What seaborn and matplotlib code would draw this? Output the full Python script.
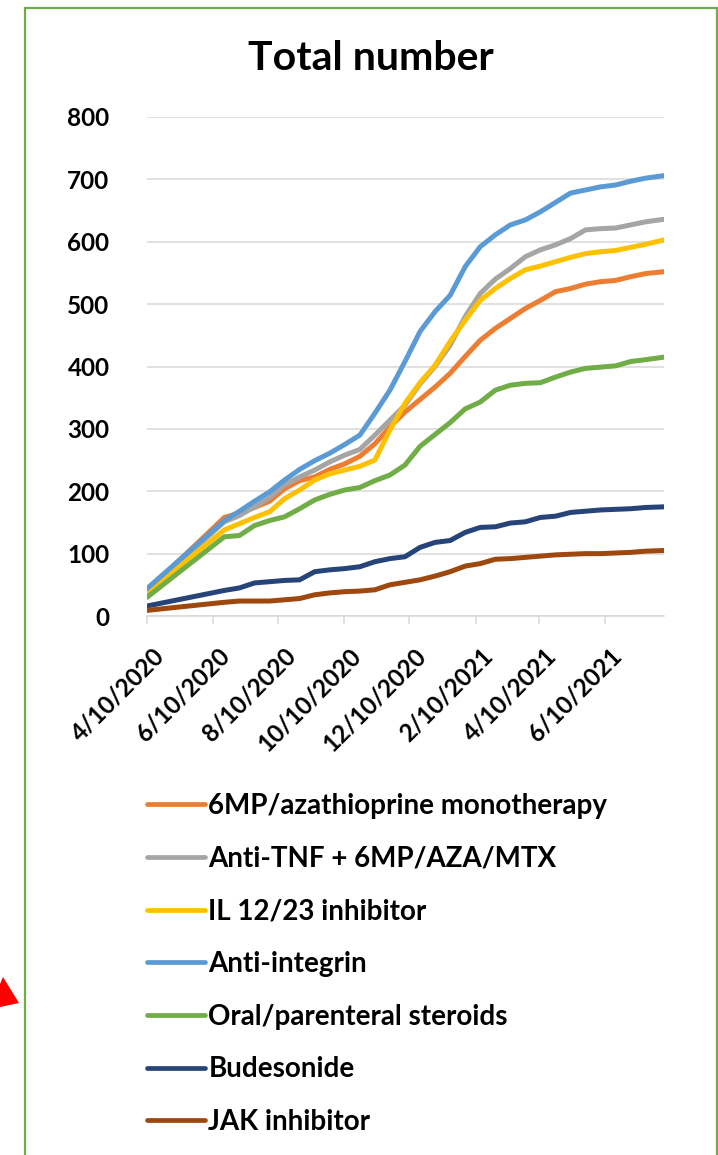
import pandas as pd
import matplotlib
matplotlib.use("Agg")
import matplotlib.pyplot as plt
import matplotlib.dates as mdates
import matplotlib.transforms as mtransforms
from matplotlib.patches import Rectangle, Polygon
import seaborn as sns

# sample dates (first point, then roughly every two weeks)
dates = ["2020-04-10", "2020-06-21", "2020-07-05", "2020-07-19", "2020-08-02", "2020-08-16",
         "2020-08-30", "2020-09-13", "2020-09-27", "2020-10-11", "2020-10-25", "2020-11-08",
         "2020-11-22", "2020-12-06", "2020-12-20", "2021-01-03", "2021-01-17", "2021-01-31",
         "2021-02-14", "2021-02-28", "2021-03-14", "2021-03-28", "2021-04-11", "2021-04-25",
         "2021-05-09", "2021-05-23", "2021-06-06", "2021-06-20", "2021-07-04", "2021-07-18",
         "2021-08-04"]

mp_aza = [40, 158, 165, 174, 184, 204, 217, 223, 235, 244, 256, 276, 303, 327, 347, 367,
          389, 416, 442, 461, 477, 493, 506, 520, 525, 532, 536, 538, 544, 549, 552]
anti_tnf_combo = [40, 151, 161, 175, 190, 210, 223, 234, 247, 258, 267, 290, 314, 338, 372, 400,
                  434, 480, 517, 540, 557, 576, 587, 595, 605, 619, 621, 622, 627, 632, 636]
il_12_23 = [38, 138, 148, 158, 167, 188, 202, 218, 228, 234, 240, 250, 298, 341, 374, 402,
            440, 474, 506, 525, 541, 555, 561, 568, 575, 581, 584, 586, 591, 596, 603]
anti_integrin = [44, 153, 168, 184, 199, 218, 235, 249, 261, 275, 290, 325, 362, 408, 456, 488,
                 514, 560, 592, 611, 627, 635, 648, 663, 678, 683, 688, 691, 697, 702, 706]
steroids = [30, 127, 129, 145, 153, 159, 172, 186, 195, 202, 206, 217, 226, 242, 272, 291,
            310, 332, 343, 362, 370, 373, 374, 383, 391, 397, 399, 401, 408, 411, 415]
budesonide = [16, 41, 45, 53, 55, 57, 58, 71, 74, 76, 79, 87, 92, 95, 110, 118,
              121, 134, 142, 143, 149, 151, 158, 160, 166, 168, 170, 171, 172, 174, 175]
jak = [9, 22, 24, 24, 24, 26, 28, 34, 37, 39, 40, 42, 50, 54, 58, 64,
       71, 80, 84, 91, 92, 94, 96, 98, 99, 100, 100, 101, 102, 104, 105]

series_names = ["6MP/azathioprine monotherapy", "Anti-TNF + 6MP/AZA/MTX", "IL 12/23 inhibitor",
                "Anti-integrin", "Oral/parenteral steroids", "Budesonide", "JAK inhibitor"]
series_colors = ["#ED7D31", "#A5A5A5", "#FFC000", "#5B9BD5", "#70AD47", "#264478", "#9E480E"]

tick_dates = ["2020-04-10", "2020-06-10", "2020-08-10", "2020-10-10", "2020-12-10",
              "2021-02-10", "2021-04-10", "2021-06-10"]
tick_labels = ["4/10/2020", "6/10/2020", "8/10/2020", "10/10/2020", "12/10/2020",
               "2/10/2021", "4/10/2021", "6/10/2021"]

# long format for seaborn
all_values = [mp_aza, anti_tnf_combo, il_12_23, anti_integrin, steroids, budesonide, jak]
frames = []
for name, vals in zip(series_names, all_values):
    frames.append(pd.DataFrame({"date": pd.to_datetime(dates), "count": vals, "therapy": name}))
df = pd.concat(frames, ignore_index=True)

sns.set_theme(style="white")
plt.rcParams['font.family'] = ['Lato', 'DejaVu Sans']
plt.rcParams['font.weight'] = 'bold'
plt.rcParams['text.color'] = 'black'

W, H = 718, 1155
fig = plt.figure(figsize=(W / 100, H / 100), dpi=100)
ax = fig.add_axes([147 / W, 1 - 616 / H, (664 - 147) / W, (616 - 117) / H])

sns.lineplot(data=df, x="date", y="count", hue="therapy", hue_order=series_names,
             palette=dict(zip(series_names, series_colors)), linewidth=3.6, ax=ax,
             legend=False, solid_capstyle="round")

ax.set_ylim(0, 800)
ax.set_yticks(range(0, 801, 100))
ax.set_xlim(pd.Timestamp("2020-04-10"), pd.Timestamp("2021-08-04"))
ax.set_xticks(mdates.date2num(pd.to_datetime(tick_dates)))
ax.set_xticklabels(tick_labels, rotation=45, ha="right", rotation_mode="anchor")
ax.set_xlabel("")
ax.set_ylabel("")

ax.grid(axis="y", color="#D9D9D9", linewidth=1.1)
ax.grid(axis="x", visible=False)
for side in ["top", "right", "left"]:
    ax.spines[side].set_visible(False)
ax.spines["bottom"].set_color("#D9D9D9")
ax.spines["bottom"].set_linewidth(1.1)
ax.tick_params(axis="x", bottom=True, length=6, width=1.1, color="#D9D9D9",
               labelsize=17.5, labelcolor="black", pad=14)
ax.tick_params(axis="y", left=False, labelsize=17.5, labelcolor="black", pad=21)

# nudge the rotated date labels a few pixels right, like the original
shift = mtransforms.ScaledTranslation(5 / 100, 0, fig.dpi_scale_trans)
for lbl in ax.get_xticklabels():
    lbl.set_fontweight("bold")
    lbl.set_transform(lbl.get_transform() + shift)
for lbl in ax.get_yticklabels():
    lbl.set_fontweight("bold")

fig.text(371 / W, 1 - 70 / H, "Total number", ha="center", va="baseline",
         fontsize=29.5, fontweight="bold", color="black")

handles = [plt.Line2D([], [], color=c, linewidth=3.4, solid_capstyle="round") for c in series_colors]
leg = fig.legend(handles, series_names, loc="upper left", bbox_to_anchor=(147 / W, 1 - 793 / H),
                 frameon=False, handlelength=2.09, handletextpad=0.12,
                 labelspacing=0.96, borderpad=0, borderaxespad=0,
                 prop={"weight": "bold", "size": 20})
for t in leg.get_texts():
    t.set_color("black")

# green frame around the chart and the red marker at the left edge
fig.add_artist(Rectangle((25 / W, -0.01), (716.5 - 25) / W, 1.01 - 8 / H,
                         transform=fig.transFigure, fill=False, edgecolor="#70AD47", linewidth=1.6))
tri = [(0, 984), (3, 977), (19, 1003), (0, 1007)]
fig.add_artist(Polygon([(x / W, 1 - y / H) for x, y in tri], closed=True,
                       transform=fig.transFigure, facecolor="#FF0000", edgecolor="none"))

fig.savefig("out.png", dpi=100)
